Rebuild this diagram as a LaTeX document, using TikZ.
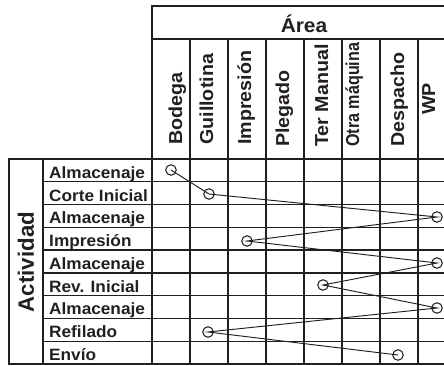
\documentclass[tikz,border=0pt]{standalone}
\usepackage{graphicx}
\usepackage{fontspec}
\setmainfont{Liberation Sans}
\newfontfamily\headfont[FakeStretch=1.05]{Liberation Sans}
\newfontfamily\rowfont[FakeStretch=1.05]{Liberation Sans}
\definecolor{ink}{HTML}{231F20}

\begin{document}
\begin{tikzpicture}[x=0.03cm,y=-0.03cm,
	gridline/.style={draw=ink, line width=1.2pt},
	collabel/.style={text=ink, inner sep=0pt, font=\headfont\bfseries\fontsize{16}{19}\selectfont},
	rowlabel/.style={text=ink, inner sep=0pt, anchor=base west, font=\rowfont\bfseries\fontsize{14}{17}\selectfont},
	station/.style={circle, draw=ink, line width=0.9pt, minimum size=0.315cm, inner sep=0pt},
	conn/.style={draw=ink, line width=0.8pt}]
	\useasboundingbox (0,0) rectangle (444,366);
	\clip (0,0) rectangle (444,366);

	% header
	\draw[gridline] (152,364) -- (152,6) -- (456,6);
	\draw[gridline] (152,39) -- (456,39);
	\foreach \x in {190,228,...,418}{
		\draw[gridline] (\x,39) -- (\x,364);
	}
	\node[collabel, anchor=base, font=\headfont\bfseries\fontsize{17}{20}\selectfont] (area) at (304,33) {Área};
	\foreach \x/\y/\t [count=\i] in {182/145/Bodega, 213/145/Guillotina, 251/145/Impresión, 289/147/Plegado, 328/147/Ter Manual, 359/147/{\scalebox{0.82}[1]{Otra máquina}}, 404/147/Despacho, 435/115/WP}{
		\node[collabel, rotate=90, anchor=base west] (col\i) at (\x,\y) {\t};
	}

	% rows
	\draw[gridline] (9,159) rectangle (456,364);
	\draw[gridline] (43,159) -- (43,364);
	\foreach \k in {1,...,8}{
		\draw[gridline] (43,{159+\k*22.78}) -- (456,{159+\k*22.78});
	}
	\node[text=ink, rotate=90, inner sep=0pt, font=\bfseries\fontsize{19}{23}\selectfont] (actividad) at (26,262) {Actividad};
	\foreach \t [count=\k] in {Almacenaje, Corte Inicial, Almacenaje, Impresión, Almacenaje, Rev. Inicial, Almacenaje, Refilado, Envío}{
		\node[rowlabel] (row\k) at (49,{159+\k*22.78-3.5}) {\t};
	}

	% recorrido
	\node[station] (s1) at (171,170) {};
	\node[station] (s2) at (209,194) {};
	\node[station] (s3) at (437,217) {};
	\node[station] (s4) at (247,241) {};
	\node[station] (s5) at (437,263) {};
	\node[station] (s6) at (323,285) {};
	\node[station] (s7) at (437,308) {};
	\node[station] (s8) at (208,332) {};
	\node[station] (s9) at (398,355) {};
	\draw[conn] (s1.center) -- (s2.center) -- (s3.center) -- (s4.center) -- (s5.center)
		-- (s6.center) -- (s7.center) -- (s8.center) -- (s9.center);
\end{tikzpicture}
\end{document}
